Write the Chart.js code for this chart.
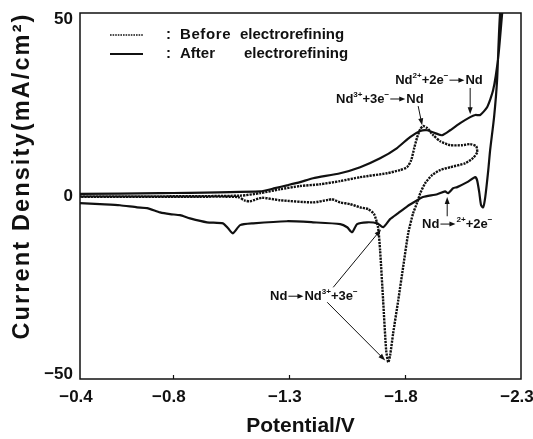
<!DOCTYPE html>
<html>
<head>
<meta charset="utf-8">
<script src="https://cdn.jsdelivr.net/npm/chart.js@4/dist/chart.umd.min.js"></script>
<style>
    html, body { margin: 0; padding: 0; background: #fff; }
    #wrap { width: 533px; height: 439px; }
</style>
</head>
<body>
<div id="wrap"><canvas id="cvChart" width="533" height="439"></canvas></div>
<script>
// Cyclic voltammograms, points listed in scan order (potential in V, current in mA/cm2)
const beforePotential = [-0.40, -0.745, -1.09, -1.176, -1.262, -1.348, -1.434, -1.521, -1.607, -1.723,
    -1.779, -1.809, -1.827, -1.840, -1.853, -1.866, -1.878, -1.896, -1.922, -1.952,
    -1.995, -2.047, -2.081, -2.107, -2.111, -2.094, -2.059, -1.995, -1.952, -1.917,
    -1.887, -1.866, -1.853, -1.835, -1.814, -1.792, -1.771, -1.749, -1.736, -1.728,
    -1.719, -1.706, -1.693, -1.684, -1.667, -1.641, -1.607, -1.564, -1.521, -1.486,
    -1.469, -1.404, -1.262, -1.184, -1.133, -1.111, -1.081, -0.917, -0.40];
const beforeCurrent = [0.1, 0.1, 0.3, 1.0, 2.1, 3.0, 3.5, 4.4, 5.5, 6.6,
    7.5, 8.3, 10.3, 13.7, 16.8, 19.0, 19.9, 19.3, 17.3, 15.6,
    14.5, 14.5, 14.8, 14.2, 12.5, 10.9, 9.4, 8.3, 7.5, 6.1,
    3.8, 1.0, -1.6, -4.7, -10.3, -19.9, -29.2, -38.5, -44.7, -46.6,
    -43.2, -29.2, -15.1, -8.6, -4.9, -3.5, -3.0, -2.1, -1.6, -0.7,
    -0.9, -1.6, -1.0, -0.3, -1.3, -1.1, -0.1, 0, 0];

const afterPotential = [-0.40, -0.745, -1.176, -1.240, -1.292, -1.348, -1.404, -1.521, -1.607, -1.693,
    -1.766, -1.822, -1.866, -1.896, -1.930, -1.960, -1.995, -2.038, -2.081, -2.103,
    -2.124, -2.154, -2.180, -2.202, -2.219, -2.228, -2.210, -2.197, -2.184, -2.167,
    -2.159, -2.146, -2.137, -2.128, -2.120, -2.111, -2.103, -2.068, -2.025, -2.008,
    -1.986, -1.973, -1.939, -1.878, -1.853, -1.810, -1.771, -1.736, -1.706, -1.681,
    -1.637, -1.594, -1.572, -1.551, -1.521, -1.404, -1.292, -1.146, -1.090, -1.059,
    -1.038, -1.016, -0.947, -0.874, -0.831, -0.788, -0.745, -0.689, -0.646, -0.572,
    -0.486, -0.40];
const afterCurrent = [0.8, 1.0, 1.5, 2.4, 3.2, 4.1, 5.2, 6.6, 8.3, 10.8,
    13.7, 16.8, 18.5, 18.7, 17.9, 17.3, 18.7, 20.7, 22.4, 23.0,
    23.0, 25.2, 30.0, 39.3, 51.7, 56.8, 51.7, 32.8, 22.4, 13.1,
    7.5, -0.1, -3.0, -2.4, 1.3, 4.6, 5.5, 4.1, 2.7, 2.4,
    1.0, 1.5, 0.7, -0.1, -1.0, -2.7, -4.6, -6.3, -8.6, -7.5,
    -7.2, -7.7, -10.0, -8.6, -7.7, -7.2, -6.9, -7.5, -8.0, -10.3,
    -8.9, -7.5, -7.2, -6.1, -5.2, -4.9, -4.4, -3.2, -3.0, -2.4,
    -2.1, -1.8];

const xTickValues = [-0.4, -0.8, -1.3, -1.8, -2.3];
const yTickValues = [-50, 0, 50];
const seriesNames = ['Before', 'After'];

const FONT = '"Liberation Sans", Arial, Helvetica, sans-serif';

function fmtMinus(s) {
    return String(s).replace('-', '\u2212');
}

function toPoints(xs, ys) {
    return xs.map(function(x, i) { return { x: x, y: ys[i] }; });
}

// text made of normal / superscript pieces and drawn arrows
function drawRich(ctx, parts, x, y, size) {
    let cx = x;
    ctx.textBaseline = 'middle';
    ctx.textAlign = 'left';
    parts.forEach(function(p) {
        if (p.arrow) {
            ctx.lineWidth = 1;
            ctx.beginPath();
            ctx.moveTo(cx + 1, y);
            ctx.lineTo(cx + p.arrow - 5, y);
            ctx.stroke();
            ctx.beginPath();
            ctx.moveTo(cx + p.arrow, y);
            ctx.lineTo(cx + p.arrow - 6, y - 2.5);
            ctx.lineTo(cx + p.arrow - 6, y + 2.5);
            ctx.closePath();
            ctx.fill();
            cx += p.arrow + 1;
            return;
        }
        const fs = p.sup ? size * 0.62 : size;
        ctx.font = 'bold ' + fs + 'px ' + FONT;
        ctx.fillText(p.t, cx, p.sup ? y - size * 0.36 : y);
        cx += ctx.measureText(p.t).width;
    });
}

function arrowLine(ctx, x1, y1, x2, y2) {
    const a = Math.atan2(y2 - y1, x2 - x1);
    ctx.lineWidth = 1;
    ctx.beginPath();
    ctx.moveTo(x1, y1);
    ctx.lineTo(x2 - 5 * Math.cos(a), y2 - 5 * Math.sin(a));
    ctx.stroke();
    ctx.beginPath();
    ctx.moveTo(x2, y2);
    ctx.lineTo(x2 - 7 * Math.cos(a) + 2.5 * Math.sin(a), y2 - 7 * Math.sin(a) - 2.5 * Math.cos(a));
    ctx.lineTo(x2 - 7 * Math.cos(a) - 2.5 * Math.sin(a), y2 - 7 * Math.sin(a) + 2.5 * Math.cos(a));
    ctx.closePath();
    ctx.fill();
}

const decorations = {
    id: 'decorations',
    afterDatasetsDraw: function(chart) {
        const ctx = chart.ctx;
        const area = chart.chartArea;
        const xs = chart.scales.x;
        const ys = chart.scales.y;
        const px = function(v) { return xs.getPixelForValue(v); };
        const py = function(v) { return ys.getPixelForValue(v); };
        ctx.save();
        ctx.strokeStyle = '#111';
        ctx.fillStyle = '#111';

        // frame and inward ticks
        ctx.lineWidth = 1.5;
        ctx.strokeRect(area.left, area.top, area.right - area.left, area.bottom - area.top);
        ctx.lineWidth = 1.2;
        xTickValues.slice(1, -1).forEach(function(v) {
            ctx.beginPath();
            ctx.moveTo(Math.round(px(v)) + 0.5, area.bottom);
            ctx.lineTo(Math.round(px(v)) + 0.5, area.bottom - 4);
            ctx.stroke();
        });

        // legend
        ctx.lineWidth = 1.6;
        ctx.setLineDash([1.6, 1]);
        ctx.beginPath(); ctx.moveTo(110, 35); ctx.lineTo(143, 35); ctx.stroke();
        ctx.setLineDash([]);
        ctx.lineWidth = 2;
        ctx.beginPath(); ctx.moveTo(110, 54); ctx.lineTo(143, 54); ctx.stroke();
        ctx.font = 'bold 15px ' + FONT;
        ctx.textBaseline = 'middle';
        ctx.textAlign = 'left';
        [35, 54].forEach(function(y, i) {
            ctx.letterSpacing = '0px';
            ctx.fillText(':', 166, y);
            ctx.letterSpacing = i === 0 ? '0.6px' : '0px';
            ctx.fillText(seriesNames[i], 180, y);
            ctx.letterSpacing = '0px';
            ctx.fillText('electrorefining', i === 0 ? 240 : 244, y);
        });

        // peak annotations
        drawRich(ctx, [{t: 'Nd'}, {t: '2+', sup: 1}, {t: '+2e'}, {t: '\u2212', sup: 1}, {arrow: 16}, {t: 'Nd'}],
            px(-1.758), py(32.8), 13);
        arrowLine(ctx, px(-2.081), py(30.6), px(-2.081), py(23.2));

        drawRich(ctx, [{t: 'Nd'}, {t: '3+', sup: 1}, {t: '+3e'}, {t: '\u2212', sup: 1}, {arrow: 16}, {t: 'Nd'}],
            px(-1.503), py(27.5), 13);
        arrowLine(ctx, px(-1.857), py(25.5), px(-1.874), py(20.1));

        drawRich(ctx, [{t: 'Nd'}, {arrow: 16}, {t: '2+', sup: 1}, {t: '+2e'}, {t: '\u2212', sup: 1}],
            px(-1.874), py(-7.7), 13);
        arrowLine(ctx, px(-1.982), py(-5.5), px(-1.982), py(-0.1));

        drawRich(ctx, [{t: 'Nd'}, {arrow: 16}, {t: 'Nd'}, {t: '3+', sup: 1}, {t: '+3e'}, {t: '\u2212', sup: 1}],
            px(-1.219), py(-28.0), 13);
        arrowLine(ctx, px(-1.491), py(-25.5), px(-1.697), py(-9.2));
        arrowLine(ctx, px(-1.465), py(-29.7), px(-1.715), py(-46.1));

        // y axis title, spread out like the original
        const yTitle = 'Current Density(mA/cm\u00b2)';
        ctx.font = 'bold 23.5px ' + FONT;
        ctx.letterSpacing = '0px';
        const w0 = ctx.measureText(yTitle).width;
        ctx.letterSpacing = Math.max(0, (325 - w0) / (yTitle.length - 1)).toFixed(2) + 'px';
        ctx.translate(23, 176);
        ctx.rotate(-Math.PI / 2);
        ctx.textAlign = 'center';
        ctx.fillText(yTitle, 0, 0);
        ctx.letterSpacing = '0px';
        ctx.restore();
    }
};

const ctx = document.getElementById('cvChart').getContext('2d');
const cvChart = new Chart(ctx, {
    type: 'scatter',
    data: {
        datasets: [{
            label: 'Before electrorefining',
            data: toPoints(beforePotential, beforeCurrent),
            showLine: true,
            borderColor: '#111',
            borderWidth: 2.4,
            borderDash: [2.2, 1],
            pointRadius: 0,
            tension: 0.2,
            fill: false
        }, {
            label: 'After electrorefining',
            data: toPoints(afterPotential, afterCurrent),
            showLine: true,
            borderColor: '#111',
            borderWidth: 2.2,
            pointRadius: 0,
            tension: 0.2,
            fill: false
        }]
    },
    options: {
        responsive: false,
        animation: false,
        layout: { padding: { top: 13, right: 12, left: 0, bottom: 0 } },
        plugins: {
            legend: { display: false },
            tooltip: { enabled: false }
        },
        scales: {
            x: {
                type: 'linear',
                reverse: true,
                min: -2.3,
                max: -0.4,
                afterBuildTicks: function(scale) {
                    scale.ticks = xTickValues.map(function(v) { return { value: v }; });
                },
                afterFit: function(scale) {
                    scale.height = 60;
                    scale.paddingLeft = 0;
                    scale.paddingRight = 0;
                },
                grid: { display: false, drawTicks: false },
                border: { display: false },
                ticks: {
                    color: '#111',
                    font: { family: FONT, size: 17, weight: 'bold' },
                    padding: 8,
                    labelOffset: -4,
                    maxRotation: 0,
                    autoSkip: false,
                    callback: function(v) { return fmtMinus(Number(v).toFixed(1)); }
                },
                title: {
                    display: true,
                    text: 'Potential/V',
                    color: '#111',
                    font: { family: FONT, size: 21, weight: 'bold' },
                    padding: { top: 0, bottom: 0 }
                }
            },
            y: {
                type: 'linear',
                min: -51.3,
                max: 51.7,
                afterBuildTicks: function(scale) {
                    scale.ticks = yTickValues.map(function(v) { return { value: v }; });
                },
                afterFit: function(scale) {
                    scale.width = 80;
                    scale.paddingTop = 0;
                    scale.paddingBottom = 0;
                },
                grid: { display: false, drawTicks: false },
                border: { display: false },
                ticks: {
                    color: '#111',
                    font: { family: FONT, size: 17, weight: 'bold' },
                    padding: 7,
                    callback: function(v) { return fmtMinus(Math.round(v)); }
                }
            }
        }
    },
    plugins: [decorations]
});
</script>
</body>
</html>
